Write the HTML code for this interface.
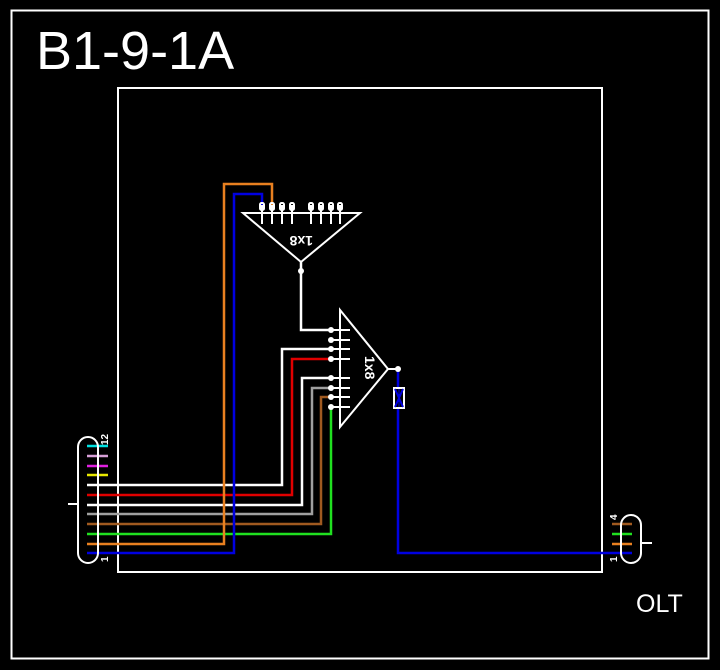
<!DOCTYPE html>
<html><head><style>html,body{margin:0;padding:0;background:#000;}svg{display:block}</style></head>
<body>
<svg width="720" height="670" viewBox="0 0 720 670" xmlns="http://www.w3.org/2000/svg" font-family="Liberation Sans, sans-serif">
<rect x="0" y="0" width="720" height="670" fill="#000"/>
<rect x="11.5" y="10.5" width="697" height="648" fill="none" stroke="#fff" stroke-width="2"/>
<rect x="118" y="88" width="484" height="484" fill="none" stroke="#fff" stroke-width="2"/>
<text x="36" y="69" font-size="54" fill="#fff">B1-9-1A</text>
<text x="636" y="612" font-size="25" fill="#fff">OLT</text>

<g fill="none" stroke-width="2.5">
<line x1="87" y1="446" x2="108" y2="446" stroke="#00e0e0"/>
<line x1="87" y1="456" x2="108" y2="456" stroke="#d8a0d8"/>
<line x1="87" y1="466" x2="108" y2="466" stroke="#e020e0"/>
<line x1="87" y1="475" x2="108" y2="475" stroke="#e8e800"/>
<polyline points="87,485 282,485 282,349 331,349" stroke="#fff"/>
<polyline points="87,495 292,495 292,359 331,359" stroke="#e00000"/>
<polyline points="87,505 302,505 302,378 331,378" stroke="#fff"/>
<polyline points="87,514 312,514 312,388 331,388" stroke="#a0a0a0"/>
<polyline points="87,524 321,524 321,397 331,397" stroke="#a05a20"/>
<polyline points="87,534 331,534 331,407" stroke="#20e020"/>
<polyline points="87,544 224,544 224,184 272,184 272,205" stroke="#e88020"/>
<polyline points="87,553 234,553 234,194 262,194 262,205" stroke="#0000e0"/>
<polyline points="301,262 301,330 331,330" stroke="#fff"/>
<polyline points="398,369 398,553 632,553" stroke="#0000e0"/>
<line x1="612" y1="524" x2="632" y2="524" stroke="#a05a20"/>
<line x1="612" y1="534" x2="632" y2="534" stroke="#20e020"/>
<line x1="612" y1="544" x2="632" y2="544" stroke="#e88020"/>
</g>

<rect x="78" y="437" width="20" height="126" rx="10" fill="none" stroke="#fff" stroke-width="2"/>
<line x1="68" y1="504" x2="78" y2="504" stroke="#fff" stroke-width="2"/>
<text x="0" y="0" font-size="10" font-weight="bold" fill="#fff" transform="translate(108,445) rotate(-90)">12</text>
<text x="0" y="0" font-size="10" font-weight="bold" fill="#fff" transform="translate(108,562) rotate(-90)">1</text>
<rect x="621" y="515" width="20" height="48" rx="10" fill="none" stroke="#fff" stroke-width="2"/>
<line x1="641" y1="543" x2="652" y2="543" stroke="#fff" stroke-width="2"/>
<text x="0" y="0" font-size="10" font-weight="bold" fill="#fff" transform="translate(617,520) rotate(-90)">4</text>
<text x="0" y="0" font-size="10" font-weight="bold" fill="#fff" transform="translate(617,562) rotate(-90)">1</text>

<g stroke="#fff" stroke-width="2" fill="none">
<polygon points="243,213 360,213 301,262"/>
<line x1="262" y1="205" x2="262" y2="224"/><line x1="272" y1="205" x2="272" y2="224"/>
<line x1="282" y1="205" x2="282" y2="224"/><line x1="292" y1="205" x2="292" y2="224"/>
<line x1="311" y1="205" x2="311" y2="224"/><line x1="321" y1="205" x2="321" y2="224"/>
<line x1="331" y1="205" x2="331" y2="224"/><line x1="340" y1="205" x2="340" y2="224"/>
<rect x="260" y="203" width="4" height="7" rx="1.5"/><rect x="270" y="203" width="4" height="7" rx="1.5"/>
<rect x="280" y="203" width="4" height="7" rx="1.5"/><rect x="290" y="203" width="4" height="7" rx="1.5"/>
<rect x="309" y="203" width="4" height="7" rx="1.5"/><rect x="319" y="203" width="4" height="7" rx="1.5"/>
<rect x="329" y="203" width="4" height="7" rx="1.5"/><rect x="338" y="203" width="4" height="7" rx="1.5"/>
<polygon points="340,310 340,427 388,369"/>
<line x1="388" y1="369" x2="398" y2="369"/>
<line x1="331" y1="330" x2="350" y2="330"/><line x1="331" y1="340" x2="350" y2="340"/>
<line x1="331" y1="349" x2="350" y2="349"/><line x1="331" y1="359" x2="350" y2="359"/>
<line x1="331" y1="378" x2="350" y2="378"/><line x1="331" y1="388" x2="350" y2="388"/>
<line x1="331" y1="397" x2="350" y2="397"/><line x1="331" y1="407" x2="350" y2="407"/>
</g>
<g fill="#fff">
<circle cx="301" cy="271" r="3"/>
<circle cx="331" cy="330" r="3"/><circle cx="331" cy="340" r="3"/><circle cx="331" cy="349" r="3"/><circle cx="331" cy="359" r="3"/>
<circle cx="331" cy="378" r="3"/><circle cx="331" cy="388" r="3"/><circle cx="331" cy="397" r="3"/><circle cx="331" cy="407" r="3"/>
<circle cx="398" cy="369" r="3"/>
</g>
<text x="0" y="0" font-size="14" font-weight="bold" fill="#fff" transform="translate(313,236) rotate(180)">1x8</text>
<text x="0" y="0" font-size="14" font-weight="bold" fill="#fff" transform="translate(365,356) rotate(90)">1x8</text>
<rect x="394" y="388" width="10" height="20" fill="#000" stroke="#fff" stroke-width="2"/>
<path d="M395,389 L403,407 M403,389 L395,407" stroke="#0000e0" stroke-width="2"/>
<line x1="399" y1="389" x2="399" y2="407" stroke="#0000e0" stroke-width="1"/>
</svg>
</body></html>
